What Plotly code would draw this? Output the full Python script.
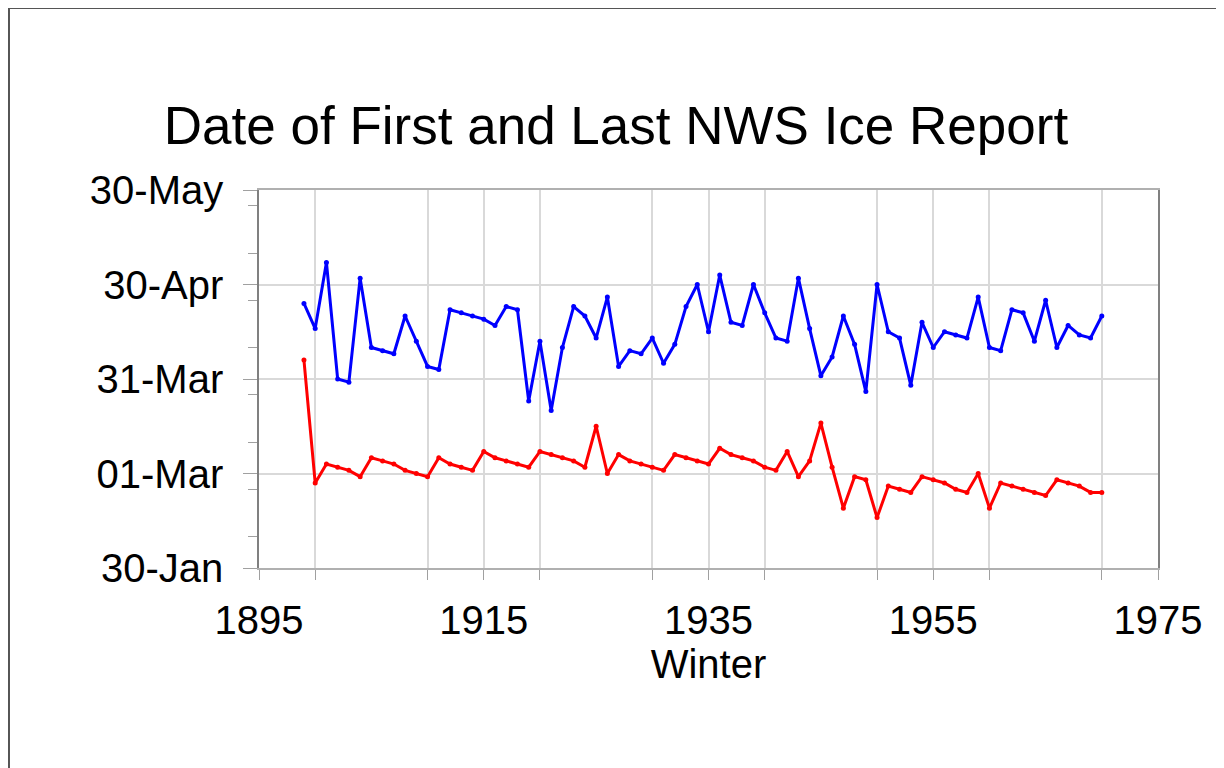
"""Date of first and last NWS ice report, by winter."""

import plotly.graph_objects as go

# winters 1899-1970
winters = list(range(1899, 1971))

# last ice report (month-day), blue
last_ice = [
    "04-24", "04-16", "05-07", "03-31", "03-30", "05-02", "04-10", "04-09", "04-08", "04-20",
    "04-12", "04-04", "04-03", "04-22", "04-21", "04-20", "04-19", "04-17", "04-23", "04-22",
    "03-24", "04-12", "03-21", "04-10", "04-23", "04-20", "04-13", "04-26", "04-04", "04-09",
    "04-08", "04-13", "04-05", "04-11", "04-23", "04-30", "04-15", "05-03", "04-18", "04-17",
    "04-30", "04-21", "04-13", "04-12", "05-02", "04-16", "04-01", "04-07", "04-20", "04-11",
    "03-27", "04-30", "04-15", "04-13", "03-29", "04-18", "04-10", "04-15", "04-14", "04-13",
    "04-26", "04-10", "04-09", "04-22", "04-21", "04-12", "04-25", "04-10", "04-17", "04-14",
    "04-13", "04-20",
]

# first ice report (month-day), red
first_ice = [
    "04-06", "02-26", "03-04", "03-03", "03-02", "02-28", "03-06", "03-05", "03-04", "03-02",
    "03-01", "02-28", "03-06", "03-04", "03-03", "03-02", "03-08", "03-06", "03-05", "03-04",
    "03-03", "03-08", "03-07", "03-06", "03-05", "03-03", "03-16", "03-01", "03-07", "03-05",
    "03-04", "03-03", "03-02", "03-07", "03-06", "03-05", "03-04", "03-09", "03-07", "03-06",
    "03-05", "03-03", "03-02", "03-08", "02-28", "03-05", "03-17", "03-03", "02-18", "02-28",
    "02-27", "02-15", "02-25", "02-24", "02-23", "02-28", "02-27", "02-26", "02-24", "02-23",
    "03-01", "02-18", "02-26", "02-25", "02-24", "02-23", "02-22", "02-27", "02-26", "02-25",
    "02-23", "02-23",
]

# dummy non-leap year so every date sits on one seasonal axis
BASE_YEAR = "1901"
DAY_MS = 86400000

FONT = "Liberation Sans, Arial, sans-serif"
WIDTH, HEIGHT = 1216, 760  # page body keeps an 8px margin


def as_dates(days):
    return [f"{BASE_YEAR}-{d}" for d in days]


fig = go.Figure()
for values, color in ((last_ice, "#0000ff"), (first_ice, "#ff0000")):
    fig.add_trace(
        go.Scatter(
            x=winters,
            y=as_dates(values),
            mode="lines+markers",
            line=dict(color=color, width=3),
            marker=dict(color=color, size=5),
            showlegend=False,
        )
    )

# outer frame of the picture (left and top edges only)
frame = dict(type="line", xref="paper", yref="paper", line=dict(color="#555555", width=2))
fig.add_shape(frame, x0=-0.2781, x1=-0.2781, y0=-0.53, y1=1.4815)
fig.add_shape(frame, x0=-0.2781, x1=1.08, y0=1.4815, y1=1.4815)

fig.update_layout(
    width=WIDTH,
    height=HEIGHT,
    margin=dict(l=251, r=66, t=182, b=200),
    paper_bgcolor="white",
    plot_bgcolor="white",
    font=dict(family=FONT, color="black"),
    title=dict(
        text="Date of First and Last NWS Ice Report",
        font=dict(size=53, family=FONT, color="black"),
        x=0.5,
        xanchor="center",
        y=1 - 117 / HEIGHT,
        yanchor="middle",
    ),
)

fig.update_xaxes(
    range=[1895, 1975],
    tick0=1895,
    dtick=20,
    ticks="outside",
    ticklen=10,
    tickcolor="#a0a0a0",
    tickfont=dict(size=40),
    ticklabelstandoff=6,
    showgrid=True,
    gridcolor="#d9d9d9",
    gridwidth=1.5,
    minor=dict(dtick=10, showgrid=True, gridcolor="#d9d9d9", gridwidth=1.5,
               ticks="outside", ticklen=10, tickcolor="#a0a0a0"),
    showline=True,
    linecolor="#b0b0b0",
    linewidth=1.5,
    mirror=True,
    zeroline=False,
    title=dict(text="Winter", font=dict(size=40), standoff=8),
)

fig.update_yaxes(
    type="date",
    range=[f"{BASE_YEAR}-01-30", f"{BASE_YEAR}-05-30"],
    tick0=f"{BASE_YEAR}-01-30",
    dtick=30 * DAY_MS,
    tickformat="%d-%b",
    ticks="outside",
    ticklen=14,
    tickcolor="#a0a0a0",
    tickfont=dict(size=40),
    ticklabelstandoff=12,
    showgrid=True,
    gridcolor="#d9d9d9",
    gridwidth=1.5,
    minor=dict(dtick=15 * DAY_MS, ticks="outside", ticklen=9, tickcolor="#a0a0a0", showgrid=False),
    showline=True,
    linecolor="#808080",
    linewidth=1.5,
    mirror=True,
    zeroline=False,
)

fig.write_html("out.html")
